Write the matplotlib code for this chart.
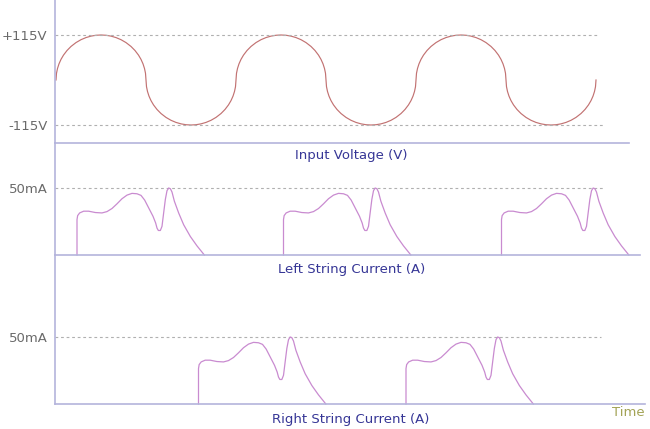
import matplotlib
matplotlib.use("Agg")
import matplotlib.pyplot as plt
import numpy as np

# ---------------- data ----------------
# one half-cycle of the input voltage (phase in degrees, volts)
half_phase = [0, 1, 3, 6, 10, 15, 22, 30, 40, 50, 60, 70, 80, 90,
              100, 110, 120, 130, 140, 150, 158, 165, 170, 174, 177, 179, 180]
half_volts = [0, 17.1, 29.4, 41.3, 52.7, 63.6, 75.3, 85.7, 95.6, 103.0, 108.4, 112.1, 114.3, 115,
              114.3, 112.1, 108.4, 103.0, 95.6, 85.7, 75.3, 63.6, 52.7, 41.3, 29.4, 17.1, 0]
half_cycle_signs = [1, -1, 1, -1, 1, -1]

# one current pulse (phase offset in degrees from pulse start, mA)
pulse_phase = [0, 0, 1.3, 5.3, 13.3, 23.3, 36.7, 50, 60, 70, 80, 90, 100, 110, 120, 128,
               135.3, 143.3, 152, 157.3, 160, 162.7, 166.7, 170, 173.3, 176.7, 180, 183.3,
               186.7, 190, 194.7, 203.3, 213.3, 226.7, 240, 254.7]
pulse_ma = [0, 26.4, 29.4, 31.4, 32.7, 32.7, 31.7, 31.4, 32.4, 34.7, 38.2, 42.0, 44.7, 46.0,
            45.7, 44.5, 41.0, 35.2, 28.9, 23.9, 20.1, 18.3, 18.3, 21.4, 31.4, 41.5, 48.0, 50.0,
            49.5, 47.0, 40.2, 31.4, 22.6, 13.8, 6.8, 0]
left_pulse_starts = [42, 455, 891]
right_pulse_starts = [285, 700]

volt_ticks = [115, -115]
volt_tick_labels = ["+115V", "-115V"]
cur_ticks = [50]
cur_tick_labels = ["50mA"]

# ---------------- style ----------------
W, H = 650, 429
fig = plt.figure(figsize=(W / 100, H / 100), dpi=100)
spine_c = "#b4b4dc"
grid_c = "#b0b0b0"
title_c = "#363696"
tick_c = "#6a6a6a"
volt_c = "#c27272"
cur_c = "#c98bd0"
fs = 9.5


def px_axes(left, top, right, bottom):
    return fig.add_axes([left / W, 1 - bottom / H, (right - left) / W, (bottom - top) / H])


def style(ax, xmax, ylim, ticks, labels):
    ax.set_xlim(-2, xmax)
    ax.set_ylim(*ylim)
    for s in ["top", "right"]:
        ax.spines[s].set_visible(False)
    for s in ["left", "bottom"]:
        ax.spines[s].set_color(spine_c)
        ax.spines[s].set_linewidth(1.2)
    ax.set_xticks([])
    ax.set_yticks(ticks)
    ax.set_yticklabels(labels, color=tick_c, fontsize=fs)
    ax.tick_params(axis="y", length=0, pad=5.5)
    ax.patch.set_alpha(0)


# top: input voltage
ax1 = px_axes(55, 0, 629, 143)
style(ax1, 1146, (-161, 204.4), volt_ticks, volt_tick_labels)
vx, vy = [], []
for i, sgn in enumerate(half_cycle_signs):
    for p, v in zip(half_phase, half_volts):
        vx.append(i * 180 + p)
        vy.append(sgn * v)
ax1.plot(vx, vy, color=volt_c, lw=0.85)
ax1.hlines(115, -2, 1084, colors=grid_c, lw=0.8, linestyles=(0, (2.5, 2.5)))
ax1.hlines(-115, -2, 1094, colors=grid_c, lw=0.8, linestyles=(0, (2.5, 2.5)))

# middle: left string current
ax2 = px_axes(55, 143, 640, 255)
style(ax2, 1168, (0, 83.6), cur_ticks, cur_tick_labels)
ax2.hlines(50, -2, 1094, colors=grid_c, lw=0.8, linestyles=(0, (2.5, 2.5)))
for s in left_pulse_starts:
    ax2.plot(np.array(pulse_phase) + s, pulse_ma, color=cur_c, lw=0.9, clip_on=False)

# bottom: right string current
ax3 = px_axes(55, 255, 645, 404)
style(ax3, 1178, (0, 111.2), cur_ticks, cur_tick_labels)
ax3.hlines(50, -2, 1090, colors=grid_c, lw=0.8, linestyles=(0, (2.5, 2.5)))
for s in right_pulse_starts:
    ax3.plot(np.array(pulse_phase) + s, pulse_ma, color=cur_c, lw=0.9, clip_on=False)

# titles
fig.text(351 / W, 1 - 155 / H, "Input Voltage (V)", color=title_c, fontsize=fs,
         ha="center", va="center")
fig.text(352 / W, 1 - 270 / H, "Left String Current (A)", color=title_c, fontsize=fs,
         ha="center", va="center")
fig.text(351 / W, 1 - 420 / H, "Right String Current (A)", color=title_c, fontsize=fs,
         ha="center", va="center")
fig.text(645 / W, 1 - 413 / H, "Time", color="#a3a355", fontsize=fs,
         ha="right", va="center")

fig.savefig("out.png", dpi=100)
